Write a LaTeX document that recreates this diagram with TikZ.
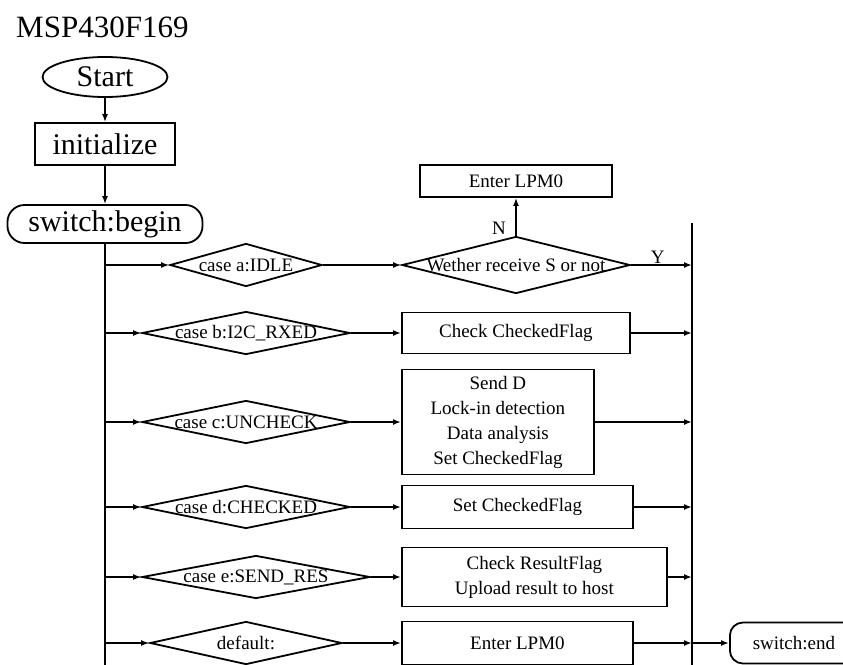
\documentclass[tikz,border=0pt]{standalone}
\usepackage{fontspec}
\setmainfont{Liberation Serif}
\usetikzlibrary{arrows.meta,shapes.geometric}

\begin{document}
\begin{tikzpicture}[x=1pt,y=-1pt,line width=1.8pt,>={Latex[length=8pt,width=6pt]},
  font=\fontsize{19}{25}\selectfont,
  big/.style={font=\fontsize{30}{36}\selectfont},
  dia/.style={draw,diamond,inner sep=0pt,minimum height=43pt},
  box/.style={draw,inner sep=0pt,align=center,anchor=west}]
\useasboundingbox (0,0) rectangle (843,664);
\node[big,anchor=base west,font=\fontsize{31}{36}\selectfont] (title) at (12,37) {MSP430F169};
\node[big,draw,ellipse,inner sep=0pt,minimum width=125pt,minimum height=40pt] (start) at (105,77) {Start};
\node[big,draw,inner sep=0pt,minimum width=140pt,minimum height=42pt] (init) at (105,144) {initialize};
\node[big,draw,rounded corners=17pt,inner sep=0pt,minimum width=195pt,minimum height=38pt] (sbeg) at (105,224) {switch:begin};
\draw[->] (start) -- (init);
\draw[->] (init) -- (sbeg);
\coordinate (lbot) at (105,670);
\coordinate (rtop) at (692,223);
\coordinate (rbot) at (692,670);
\draw (sbeg) -- (lbot);
\draw (rtop) -- (rbot);
% cases
\foreach \k/\y/\cx/\w/\t in {1/265/246/152/case a:IDLE,2/333/246/208/case b:I2C\_RXED,
  3/422/246/208/case c:UNCHECK,4/507/246/208/case d:CHECKED,5/577/256/228/case e:SEND\_RES,
  6/643/246/192/default:}{
\node[dia,minimum width=\w pt] (C\k) at (\cx,\y) {\makebox[0pt]{\t}};
\draw[->] (C\k.west -| lbot) -- (C\k.west);}
% case a
\node[dia,minimum width=228pt,minimum height=57pt] (ask) at (516,265) {\makebox[0pt]{Wether receive S or not}};
\node[draw,inner sep=0pt,minimum width=192pt,minimum height=32pt] (lpmA) at (516,181) {Enter LPM0};
\draw[->] (C1) -- (ask);
\draw[->] (ask) -- node[pos=.2,left=6pt]{N} (lpmA);
\draw[->] (ask) -- node[pos=.44,above,inner sep=1pt]{Y} (ask.east -| rtop);
% actions
\node[box,minimum width=228pt,minimum height=41pt] (chk) at (401,333) {Check CheckedFlag};
\node[box,minimum width=192pt,minimum height=105pt] (anl) at (401,422) {Send D\\Lock-in detection\\Data analysis\\Set CheckedFlag};
\node[box,minimum width=231pt,minimum height=43pt] (setf) at (401,507) {Set CheckedFlag};
\node[box,minimum width=265pt,minimum height=59pt] (upl) at (401,577) {Check ResultFlag\\Upload result to host};
\node[box,minimum width=231pt,minimum height=43pt] (lpmB) at (401,643) {Enter LPM0};
\foreach \k/\b in {2/chk,3/anl,4/setf,5/upl,6/lpmB}{
\draw[->] (C\k.east) -- (C\k.east -| \b.west);
\draw[->] (\b.east) -- (\b.east -| rtop);}
\node[draw,rounded corners=13pt,inner sep=0pt,minimum width=128pt,minimum height=41pt,anchor=west] (send) at (729,643) {switch:end};
\draw[->] (lpmB.east -| rtop) -- (send);
\end{tikzpicture}
\end{document}
